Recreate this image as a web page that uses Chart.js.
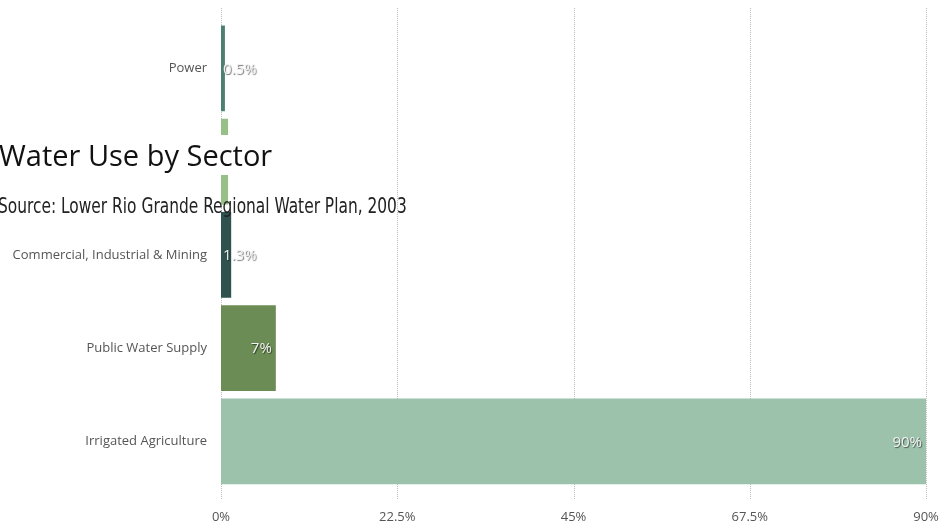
<!DOCTYPE html>
<html>
<head>
<meta charset="utf-8">
<script src="https://cdn.jsdelivr.net/npm/chart.js@4"></script>
<style>
  html, body { margin: 0; padding: 0; background: #fff; overflow: hidden; }
  #wrap { position: absolute; left: 0; top: 0; width: 940px; height: 540px; }
  #title {
    position: absolute; left: -1px; top: 135px;
    font-family: "Open Sans", sans-serif; font-size: 29px; line-height: 40px;
    color: #111; background: #fff; display: inline-block; white-space: nowrap;
    z-index: 2;
  }
  #subtitle {
    position: absolute; left: -2px; top: 193px;
    font-family: "Liberation Sans Narrow", "DejaVu Sans Condensed", sans-serif;
    font-size: 21px; line-height: 26px; color: #222; white-space: nowrap;
    transform-origin: 0 0; z-index: 2;
  }
</style>
</head>
<body>
<div id="wrap">
  <canvas id="chart" width="940" height="540"></canvas>
  <div id="title">Water Use by Sector</div>
  <div id="subtitle">Source: Lower Rio Grande Regional Water Plan, 2003</div>
</div>
<script>
// dados do gráfico
const categories = ["Power", "Livestock", "Commercial, Industrial & Mining", "Public Water Supply", "Irrigated Agriculture"];
const values = [0.5, 0.9, 1.3, 7, 90];
const barColors = ["#4d7f73", "#97bf88", "#2f524e", "#6b8d55", "#9cc2ab"];
const tickValues = [0, 22.5, 45, 67.5, 90];

// ajusta largura do subtítulo (fonte condensada)
const sub = document.getElementById("subtitle");
sub.style.transform = "scaleX(" + (409 / sub.offsetWidth) + ")";

// linhas pontilhadas verticais
const dottedGrid = {
  id: "dottedGrid",
  beforeDatasetsDraw(chart) {
    const ctx = chart.ctx;
    const x = chart.scales.x;
    ctx.save();
    ctx.strokeStyle = "#bdbdbd";
    ctx.lineWidth = 1;
    ctx.setLineDash([1, 1]);
    tickValues.forEach(v => {
      const px = Math.round(x.getPixelForValue(v)) + 0.5;
      ctx.beginPath();
      ctx.moveTo(px, 8);
      ctx.lineTo(px, 500);
      ctx.stroke();
    });
    ctx.restore();
  }
};

// rótulos de valor dentro das barras
const valueLabels = {
  id: "valueLabels",
  afterDatasetsDraw(chart) {
    const ctx = chart.ctx;
    const meta = chart.getDatasetMeta(0);
    ctx.save();
    ctx.font = "15px 'Open Sans', sans-serif";
    ctx.textBaseline = "middle";
    ctx.textAlign = "left";
    meta.data.forEach((bar, i) => {
      const txt = values[i] + "%";
      const w = ctx.measureText(txt).width;
      let tx = bar.x - 4 - w;
      if (tx < chart.chartArea.left + 2) tx = chart.chartArea.left + 2;
      ctx.shadowColor = "rgba(0,0,0,0.55)";
      ctx.shadowOffsetX = 1;
      ctx.shadowOffsetY = 1;
      ctx.shadowBlur = 1;
      ctx.fillStyle = "#f2f2f2";
      ctx.fillText(txt, tx, bar.y + 1);
    });
    ctx.restore();
  }
};

new Chart(document.getElementById("chart"), {
  type: "bar",
  data: {
    labels: categories,
    datasets: [{
      data: values,
      backgroundColor: barColors,
      borderWidth: 0,
      categoryPercentage: 1,
      barPercentage: 0.92
    }]
  },
  options: {
    indexAxis: "y",
    responsive: false,
    animation: false,
    layout: { padding: { top: 21, right: 14, left: 0, bottom: 0 } },
    plugins: {
      legend: { display: false },
      tooltip: { enabled: false },
      title: { display: false }
    },
    scales: {
      x: {
        min: 0,
        max: 90,
        afterBuildTicks(scale) {
          scale.ticks = tickValues.map(v => ({ value: v }));
        },
        afterFit(scale) {
          scale.height = 52;
          scale.paddingLeft = 0;
          scale.paddingRight = 0;
        },
        grid: { display: false, drawTicks: false },
        border: { display: false },
        ticks: {
          padding: 21,
          color: "#555",
          font: { family: "'Open Sans', sans-serif", size: 13 },
          maxRotation: 0,
          callback: v => v + "%"
        }
      },
      y: {
        afterFit(scale) { scale.width = 221; },
        grid: { display: false, drawTicks: false },
        border: { display: false },
        ticks: {
          padding: 14,
          color: "#555",
          font: { family: "'Open Sans', sans-serif", size: 13 }
        }
      }
    }
  },
  plugins: [dottedGrid, valueLabels]
});
</script>
</body>
</html>
